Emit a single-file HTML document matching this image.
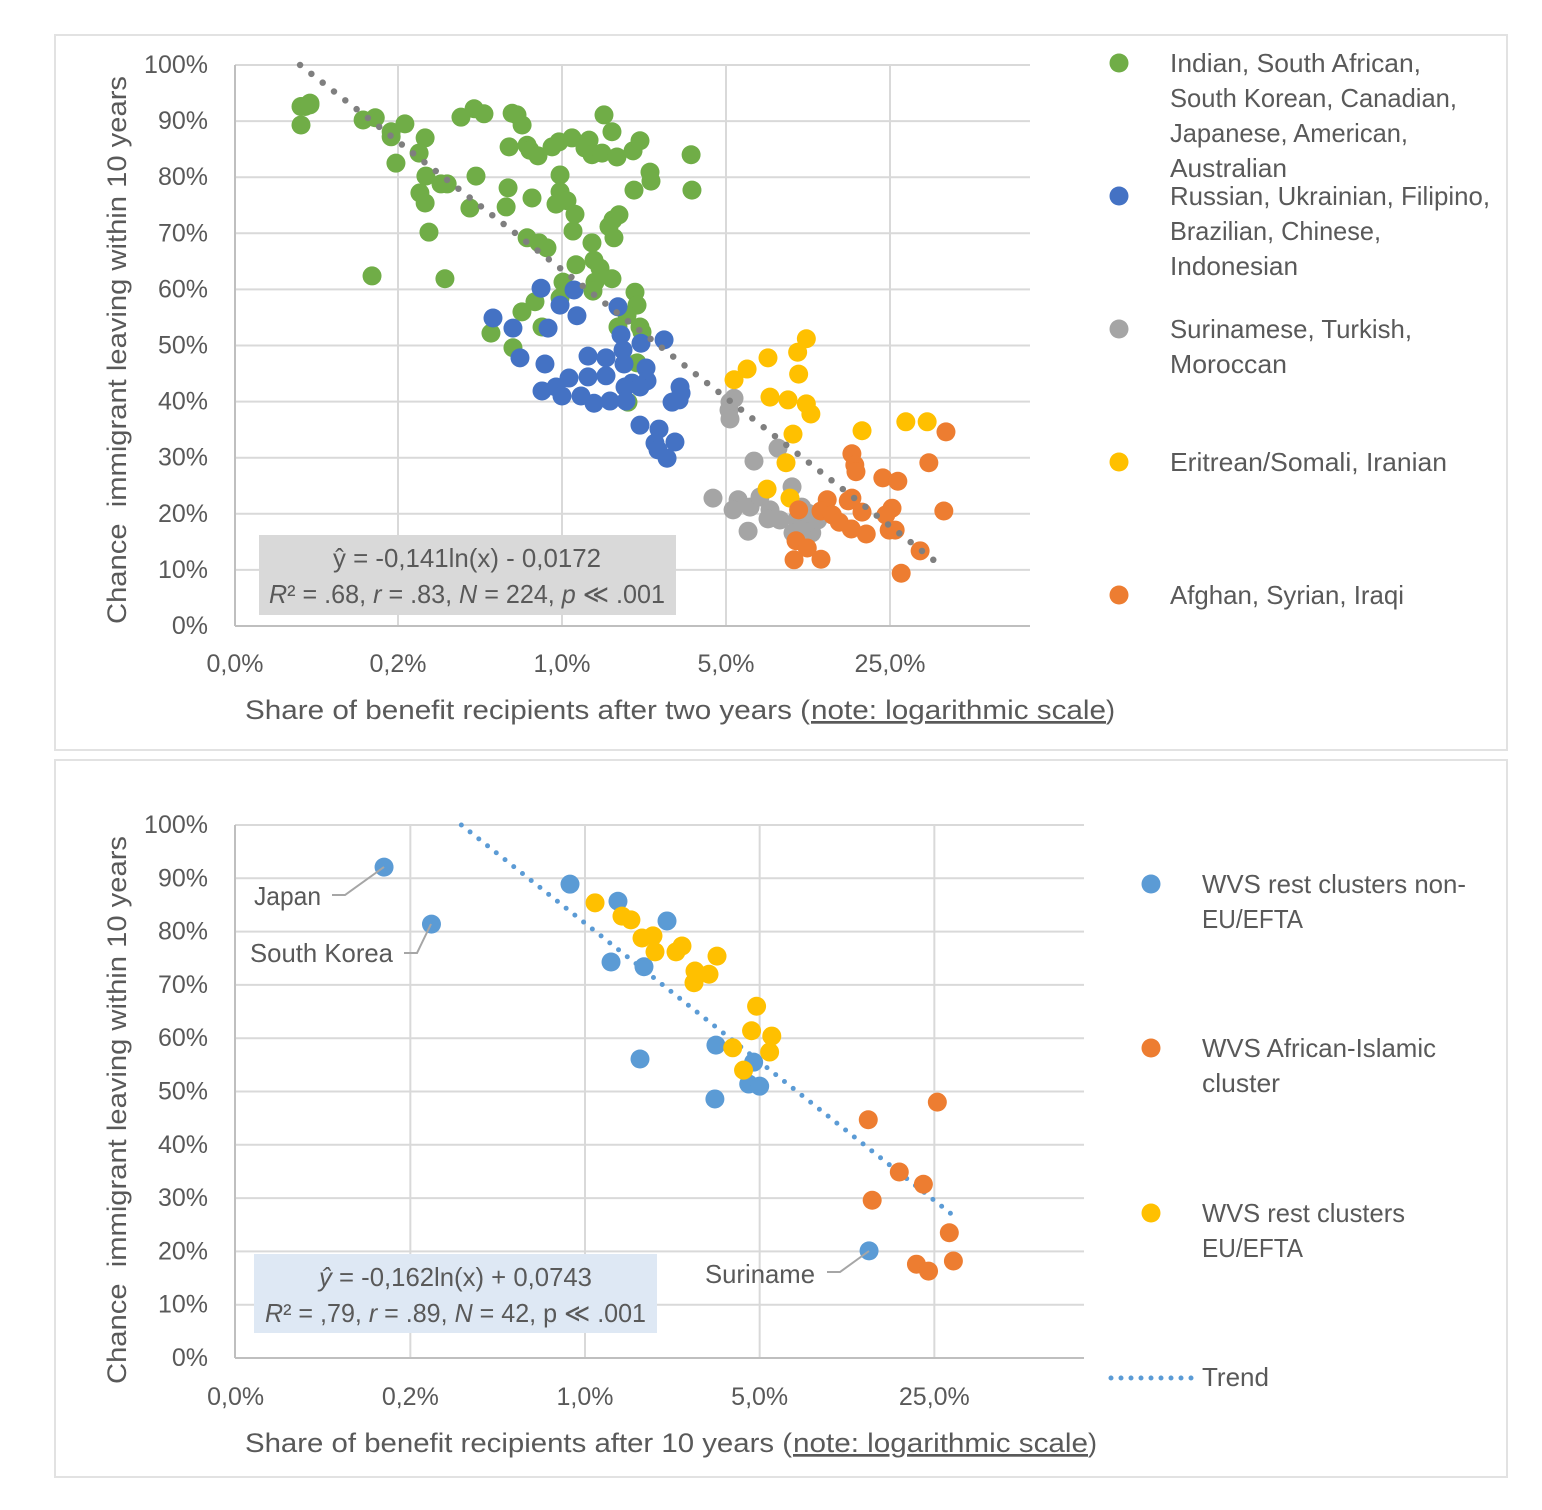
<!DOCTYPE html>
<html lang="en">
<head>
<meta charset="utf-8">
<title>Chance of leaving vs share of benefit recipients</title>
<style>
html,body{margin:0;padding:0;background:#fff;}
svg{display:block;}
text{font-family:"Liberation Sans","DejaVu Sans",sans-serif;fill:#595959;white-space:pre;}
.tick{font-size:25px;}
.title{font-size:27px;}
.leg{font-size:26px;}
.stat{font-size:26px;}
</style>
</head>
<body>
<svg xmlns="http://www.w3.org/2000/svg" width="1542" height="1510" viewBox="0 0 1542 1510">
  <rect x="55" y="35" width="1452" height="715" fill="#fff" stroke="#e2e2e2" stroke-width="2"/>
  <rect x="55" y="760" width="1452" height="717" fill="#fff" stroke="#e2e2e2" stroke-width="2"/>

  <g id="top-grid"></g>
  <g id="bottom-grid"></g>
  <g id="bottom-trend"></g>
  <g id="top-marks"></g>
  <g id="bottom-marks"></g>
  <g id="top-trend"></g>
  <g id="tick-labels"></g>

  <text class="title" transform="translate(126,624) rotate(-90)" textLength="548" lengthAdjust="spacingAndGlyphs">Chance  immigrant leaving within 10 years</text>
  <text class="title" transform="translate(126,1384) rotate(-90)" textLength="548" lengthAdjust="spacingAndGlyphs">Chance  immigrant leaving within 10 years</text>

  <g>
    <text class="title" x="245" y="719" textLength="565" lengthAdjust="spacingAndGlyphs">Share of benefit recipients after two years (</text>
    <text class="title" x="811" y="719" textLength="295" lengthAdjust="spacingAndGlyphs" text-decoration="underline">note: logarithmic scale</text>
    <text class="title" x="1106" y="719">)</text>
  </g>
  <g>
    <text class="title" x="245" y="1452" textLength="547" lengthAdjust="spacingAndGlyphs">Share of benefit recipients after 10 years (</text>
    <text class="title" x="793" y="1452" textLength="295" lengthAdjust="spacingAndGlyphs" text-decoration="underline">note: logarithmic scale</text>
    <text class="title" x="1088" y="1452">)</text>
  </g>

  <g>
    <rect x="259" y="535" width="417" height="80" fill="#d9d9d9"/>
    <text class="stat" x="333" y="567" textLength="268" lengthAdjust="spacingAndGlyphs">ŷ = -0,141ln(x) - 0,0172</text>
    <text class="stat" x="269" y="603" textLength="396" lengthAdjust="spacingAndGlyphs"><tspan font-style="italic">R</tspan>² = .68, <tspan font-style="italic">r</tspan> = .83, <tspan font-style="italic">N</tspan> = 224, <tspan font-style="italic">p</tspan> ≪ .001</text>
  </g>
  <g>
    <rect x="254" y="1254" width="403" height="79" fill="#dee8f4"/>
    <text class="stat" x="319" y="1286" textLength="273" lengthAdjust="spacingAndGlyphs"><tspan font-style="italic">ŷ</tspan> = -0,162ln(x) + 0,0743</text>
    <text class="stat" x="265" y="1322" textLength="381" lengthAdjust="spacingAndGlyphs"><tspan font-style="italic">R</tspan>² = ,79, <tspan font-style="italic">r</tspan> = .89, <tspan font-style="italic">N</tspan> = 42, p ≪ .001</text>
  </g>

  <g>
    <g>
      <circle cx="1119" cy="63" r="9.5" fill="#70ad47"/>
      <text class="leg" x="1170" y="72" textLength="251" lengthAdjust="spacingAndGlyphs">Indian, South African,</text>
      <text class="leg" x="1170" y="107" textLength="287" lengthAdjust="spacingAndGlyphs">South Korean, Canadian,</text>
      <text class="leg" x="1170" y="142" textLength="238" lengthAdjust="spacingAndGlyphs">Japanese, American,</text>
      <text class="leg" x="1170" y="177" textLength="117" lengthAdjust="spacingAndGlyphs">Australian</text>
    </g>
    <g>
      <circle cx="1119" cy="196" r="9.5" fill="#4472c4"/>
      <text class="leg" x="1170" y="205" textLength="320" lengthAdjust="spacingAndGlyphs">Russian, Ukrainian, Filipino,</text>
      <text class="leg" x="1170" y="240" textLength="211" lengthAdjust="spacingAndGlyphs">Brazilian, Chinese,</text>
      <text class="leg" x="1170" y="275" textLength="128" lengthAdjust="spacingAndGlyphs">Indonesian</text>
    </g>
    <g>
      <circle cx="1119" cy="329" r="9.5" fill="#a5a5a5"/>
      <text class="leg" x="1170" y="338" textLength="242" lengthAdjust="spacingAndGlyphs">Surinamese, Turkish,</text>
      <text class="leg" x="1170" y="373" textLength="117" lengthAdjust="spacingAndGlyphs">Moroccan</text>
    </g>
    <g>
      <circle cx="1119" cy="462" r="9.5" fill="#ffc000"/>
      <text class="leg" x="1170" y="471" textLength="277" lengthAdjust="spacingAndGlyphs">Eritrean/Somali, Iranian</text>
    </g>
    <g>
      <circle cx="1119" cy="595" r="9.5" fill="#ed7d31"/>
      <text class="leg" x="1170" y="604" textLength="234" lengthAdjust="spacingAndGlyphs">Afghan, Syrian, Iraqi</text>
    </g>
  </g>

  <g>
    <g>
      <circle cx="1151" cy="884" r="9.5" fill="#5b9bd5"/>
      <text class="leg" x="1202" y="893" textLength="264" lengthAdjust="spacingAndGlyphs">WVS rest clusters non-</text>
      <text class="leg" x="1202" y="928" textLength="101" lengthAdjust="spacingAndGlyphs">EU/EFTA</text>
    </g>
    <g>
      <circle cx="1151" cy="1048" r="9.5" fill="#ed7d31"/>
      <text class="leg" x="1202" y="1057" textLength="234" lengthAdjust="spacingAndGlyphs">WVS African-Islamic</text>
      <text class="leg" x="1202" y="1092" textLength="78" lengthAdjust="spacingAndGlyphs">cluster</text>
    </g>
    <g>
      <circle cx="1151" cy="1213" r="9.5" fill="#ffc000"/>
      <text class="leg" x="1202" y="1222" textLength="203" lengthAdjust="spacingAndGlyphs">WVS rest clusters</text>
      <text class="leg" x="1202" y="1257" textLength="101" lengthAdjust="spacingAndGlyphs">EU/EFTA</text>
    </g>
    <g>
      <line x1="1111" y1="1378" x2="1192" y2="1378" stroke="#5b9bd5" stroke-width="5" stroke-linecap="round" stroke-dasharray="0 10"/>
      <text class="leg" x="1202" y="1386" textLength="67" lengthAdjust="spacingAndGlyphs">Trend</text>
    </g>
  </g>

  <g>
    <text class="leg" x="254" y="905" textLength="67" lengthAdjust="spacingAndGlyphs">Japan</text>
    <polyline points="332,895 345,895 384,867" fill="none" stroke="#a6a6a6" stroke-width="2"/>
  </g>
  <g>
    <text class="leg" x="250" y="962" textLength="143" lengthAdjust="spacingAndGlyphs">South Korea</text>
    <polyline points="404,953 417,953 431,924" fill="none" stroke="#a6a6a6" stroke-width="2"/>
  </g>
  <g>
    <text class="leg" x="705" y="1283" textLength="110" lengthAdjust="spacingAndGlyphs">Suriname</text>
    <polyline points="827,1272 840,1272 869,1251" fill="none" stroke="#a6a6a6" stroke-width="2"/>
  </g>
</svg>

<script>
// Shared axis labels
const yTickValues = [0,10,20,30,40,50,60,70,80,90,100];
const yTickLabels = ['0%','10%','20%','30%','40%','50%','60%','70%','80%','90%','100%'];
const xTickValues = [0.04,0.2,1,5,25];
const xTickLabels = ['0,0%','0,2%','1,0%','5,0%','25,0%'];

// Top chart: share after two years (%), chance of leaving (%)
const topGreenX = [.0843,.0772,.0803,.0843,.0772,.142,.160,.187,.187,.214,.261,.246,.196,.263,.305,.324,.248,.261,.271,.155,.317,.371,.422,.465,.430,.405,.613,.643,.676,.595,.710,.730,.790,.907,.971,1.103,1.304,1.253,1.342,1.481,1.715,2.008,2.150,1.510,1.633,3.55,3.58,2.372,2.395,2.027,.981,.981,1.050,.943,.589,.578,.745,1.136,1.114,1.749,1.649,1.586,1.665,1.342,.710,.798,.863,1.147,1.369,1.452,1.633,1.382,1.355,1.010,2.047,2.088,.981,.767,.675,.498,.822,.618,1.893,1.732,2.150,2.193,2.088,1.911];
const topGreenY = [93.2,92.6,92.6,92.9,89.3,90.2,90.6,88.1,87.2,89.5,87.0,84.3,82.5,80.2,78.8,78.8,77.2,75.4,70.2,62.4,61.9,90.7,92.2,91.3,80.2,74.5,91.4,91.1,89.3,85.4,85.7,84.8,83.8,85.4,86.3,87.0,86.6,85.2,84.0,84.3,83.6,84.7,86.5,91.1,88.1,84.0,77.7,80.9,79.3,77.7,80.4,77.4,75.8,75.2,78.1,74.7,76.3,73.4,70.4,73.3,72.4,71.2,69.2,68.3,69.2,68.3,67.4,64.4,65.2,63.8,61.9,61.3,59.7,61.3,59.5,57.2,58.5,57.8,56.0,52.2,53.3,49.6,55.4,53.3,53.3,52.4,46.9,39.9];
const topBlueX = [.814,1.125,.981,1.158,.508,.618,.872,1.732,1.784,2.171,2.723,1.820,1.291,1.540,1.838,.662,.846,2.281,2.303,1.071,1.291,1.540,1.988,1.856,2.150,.943,.822,1.0,1.205,1.369,1.602,1.874,3.185,3.217,3.155,2.945,2.150,2.591,3.03,2.491,2.565,2.804];
const topBlueY = [60.2,59.9,57.2,55.3,54.9,53.1,53.1,56.9,51.9,50.4,51.0,49.2,48.1,47.8,46.7,47.8,46.7,46.0,43.7,44.2,44.4,44.6,43.3,42.6,42.6,42.6,41.9,41.0,41.0,39.7,40.1,40.1,42.6,41.5,40.3,39.9,35.8,35.1,32.8,32.6,31.4,29.9];
const topGrayX = [5.41,5.20,5.15,5.20,8.33,6.58,4.40,5.63,5.36,6.33,6.98,9.56,7.70,7.55,8.49,6.21,10.5,10.0,11.8,9.65,11.6,10.6,10.6,11.2,12.3,10.4];
const topGrayY = [40.6,39.9,38.5,36.9,31.7,29.4,22.8,22.5,20.7,21.2,23.0,24.8,20.7,19.1,18.9,16.9,21.2,18.9,18.5,16.6,16.6,17.6,15.9,20.1,18.9,17.1];
const topYellowX = [11.0,10.1,7.55,6.15,5.41,10.2,7.70,9.19,11.0,11.5,9.65,9.01,7.48,9.37,19.0,29.2,36.0];
const topYellowY = [51.2,48.8,47.8,45.8,43.9,44.9,40.8,40.3,39.6,37.8,34.2,29.1,24.4,22.8,34.8,36.4,36.4];
const topOrangeX = [43.3,17.2,17.7,17.9,23.3,27.0,36.6,42.4,10.2,13.5,17.2,16.6,19.0,25.5,24.0,24.8,26.3,12.7,14.2,15.2,17.1,19.8,33.6,27.9,9.94,11.1,9.75,12.7];
const topOrangeY = [34.6,30.7,28.7,27.5,26.4,25.8,29.1,20.5,20.7,22.5,22.8,22.3,20.3,21.0,19.8,17.1,17.1,20.5,19.8,18.5,17.3,16.4,13.4,9.4,15.2,13.9,11.8,11.9];
const topTrendX = [0.0765,39.6];
const topTrendY = [100,11.3];

// Bottom chart: share after ten years (%), chance of leaving (%)
const bottomBlueX = [.157,.243,.871,1.355,2.129,1.271,1.722,1.660,3.342,4.73,4.52,5.0,3.31,13.7];
const bottomBlueY = [92.1,81.4,88.9,85.7,82.0,74.3,73.4,56.1,58.7,55.5,51.4,51.0,48.6,20.1];
const bottomYellowX = [1.097,1.406,1.527,1.691,1.871,1.906,2.313,2.444,3.375,2.755,3.135,2.730,4.86,4.64,5.59,5.48,3.90,4.31];
const bottomYellowY = [85.4,82.9,82.2,78.8,79.2,76.2,76.2,77.3,75.4,72.6,72.0,70.4,66.0,61.4,60.4,57.4,58.2,54.0];
const bottomOrangeX = [13.6,25.7,18.1,22.6,14.1,28.7,21.2,23.7,29.8];
const bottomOrangeY = [44.7,48.0,34.9,32.6,29.6,23.5,17.6,16.3,18.2];
const bottomTrendX = [0.320,30.2];
const bottomTrendY = [100,26.5];

const SVG_NS = 'http://www.w3.org/2000/svg';

function log5(v) { return Math.log(v) / Math.log(5); }
function topXScale(v) { return 562 + 164 * log5(v); }
function topYScale(v) { return 626 - 5.61 * v; }
function bottomXScale(v) { return 585 + 174.67 * log5(v); }
function bottomYScale(v) { return 1358 - 5.33 * v; }

function addLine(parent, x1, y1, x2, y2, color, width, gridName) {
  const el = document.createElementNS(SVG_NS, 'line');
  el.setAttribute('x1', x1);
  el.setAttribute('y1', y1);
  el.setAttribute('x2', x2);
  el.setAttribute('y2', y2);
  el.setAttribute('stroke', color);
  el.setAttribute('stroke-width', width);
  
  
  parent.appendChild(el);
  return el;
}

function addTickLabel(parent, x, y, anchor, label, labelName) {
  const el = document.createElementNS(SVG_NS, 'text');
  el.setAttribute('x', x);
  el.setAttribute('y', y);
  el.setAttribute('text-anchor', anchor);
  el.setAttribute('class', 'tick');
  
  
  el.textContent = label;
  parent.appendChild(el);
}

function drawAxes(gridId, xScale, yScale, xRight, xLabelY, prefix) {
  const grid = document.getElementById(gridId);
  const labels = document.getElementById('tick-labels');
  const yTop = yScale(100);
  const yBottom = yScale(0);
  yTickValues.forEach(function (v, i) {
    if (v > 0) addLine(grid, 235, yScale(v), xRight, yScale(v), '#d9d9d9', 2, prefix + '-horizontal-gridline');
    addTickLabel(labels, 208, yScale(v) + 8, 'end', yTickLabels[i], prefix + '-y-tick-label');
  });
  xTickValues.forEach(function (v, i) {
    if (i > 0) addLine(grid, xScale(v), yTop, xScale(v), yBottom, '#d9d9d9', 2, prefix + '-vertical-gridline');
    addTickLabel(labels, Math.max(xScale(v), 235), xLabelY, 'middle', xTickLabels[i], prefix + '-x-tick-label');
  });
  addLine(grid, 235, yTop, 235, yBottom, '#bfbfbf', 2, prefix + '-y-axis-line');
  addLine(grid, 235, yBottom, xRight, yBottom, '#bfbfbf', 2, prefix + '-x-axis-line');
}

function drawSeries(groupId, xs, ys, xScale, yScale, color, seriesName) {
  const group = document.getElementById(groupId);
  xs.forEach(function (x, i) {
    const el = document.createElementNS(SVG_NS, 'circle');
    el.setAttribute('cx', xScale(x));
    el.setAttribute('cy', yScale(ys[i]));
    el.setAttribute('r', 9.5);
    el.setAttribute('fill', color);
    
    
    group.appendChild(el);
  });
}

function drawTrend(groupId, xs, ys, xScale, yScale, color, width, period, trendName) {
  const el = addLine(document.getElementById(groupId), xScale(xs[0]), yScale(ys[0]), xScale(xs[1]), yScale(ys[1]), color, width, trendName);
  el.setAttribute('stroke-linecap', 'round');
  el.setAttribute('stroke-dasharray', '0 ' + period);
}

drawAxes('top-grid', topXScale, topYScale, 1030, 672, 'top');
drawAxes('bottom-grid', bottomXScale, bottomYScale, 1084, 1405, 'bottom');

drawSeries('top-marks', topGreenX, topGreenY, topXScale, topYScale, '#70ad47', 'top-green');
drawSeries('top-marks', topBlueX, topBlueY, topXScale, topYScale, '#4472c4', 'top-blue');
drawSeries('top-marks', topGrayX, topGrayY, topXScale, topYScale, '#a5a5a5', 'top-gray');
drawSeries('top-marks', topYellowX, topYellowY, topXScale, topYScale, '#ffc000', 'top-yellow');
drawSeries('top-marks', topOrangeX, topOrangeY, topXScale, topYScale, '#ed7d31', 'top-orange');
drawTrend('top-trend', topTrendX, topTrendY, topXScale, topYScale, '#7f7f7f', 6.5, 14.35, 'top-trend-line');

drawTrend('bottom-trend', bottomTrendX, bottomTrendY, bottomXScale, bottomYScale, '#5b9bd5', 5, 11.15, 'bottom-trend-line');
drawSeries('bottom-marks', bottomBlueX, bottomBlueY, bottomXScale, bottomYScale, '#5b9bd5', 'bottom-non-eu');
drawSeries('bottom-marks', bottomOrangeX, bottomOrangeY, bottomXScale, bottomYScale, '#ed7d31', 'bottom-african-islamic');
drawSeries('bottom-marks', bottomYellowX, bottomYellowY, bottomXScale, bottomYScale, '#ffc000', 'bottom-eu');
</script>
</body>
</html>
